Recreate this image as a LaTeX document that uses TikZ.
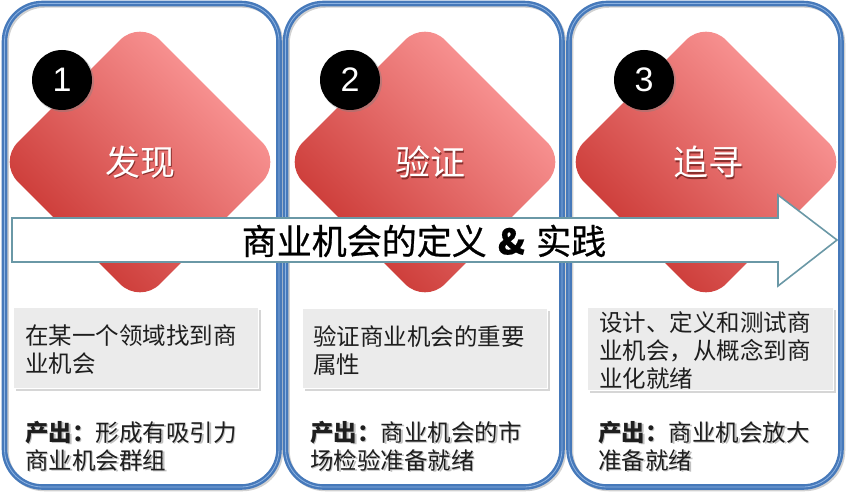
\documentclass[tikz,border=0pt]{standalone}
\usepackage{fontspec}
\setmainfont{Noto Sans CJK SC}
\newfontfamily\numfont{Liberation Sans}
\newfontfamily\titlefont[FakeBold=0.6]{Noto Sans CJK SC}
\usetikzlibrary{shapes.geometric}
\definecolor{panelblue}{HTML}{4679BA}
\definecolor{panellight}{HTML}{8DB3E2}
\definecolor{reddark}{HTML}{C62F2B}
\definecolor{redlight}{HTML}{FFA0A0}
\definecolor{arrowline}{HTML}{6A98A6}
\definecolor{boxgray}{HTML}{EBEBEB}
\definecolor{txtdark}{HTML}{1E1E1E}
\tikzset{
  panelbox/.style={rectangle, rounded corners=38pt, draw=panelblue, line width=2.4pt, double=panellight, double distance=0.8pt, inner sep=0pt},
  panelshadow/.style={rectangle, rounded corners=38pt, draw=black!40, line width=5pt, inner sep=0pt, opacity=0.45},
  redgem/.style={diamond, aspect=1, inner sep=0pt, minimum width=284pt, minimum height=284pt, rounded corners=28pt, top color=redlight, bottom color=reddark, shading angle=-45},
  gemtext/.style={text=white, font=\fontsize{35}{35}\selectfont, inner sep=0pt},
  gemshadow/.style={text=reddark!50!black, font=\fontsize{35}{35}\selectfont, inner sep=0pt, opacity=0.7},
  numdot/.style={circle, fill=black, minimum size=60pt, inner sep=0pt, text=white, font=\numfont\fontsize{34}{34}\selectfont},
  numshadow/.style={circle, fill=black!50, minimum size=61pt, inner sep=0pt, opacity=0.4},
  arrowbody/.style={draw=arrowline, line width=1.6pt, fill=white, line join=miter},
  greybox/.style={rectangle, fill=boxgray, draw=white, line width=0.8pt, inner sep=0pt},
  greyshadow/.style={rectangle, fill=black!35, opacity=0.45, inner sep=0pt},
  desc/.style={font=\fontsize{23.5}{28}\selectfont, align=left, anchor=west, inner sep=0pt, text=txtdark},
  descshadow/.style={desc, text=black!40, opacity=0.6},
}
\begin{document}
\begin{tikzpicture}[x=1pt, y=-1pt]
\useasboundingbox (0,0) rectangle (849,500);
\fill[white] (0,0) rectangle (849,500);

% panel shadows and panels
\node[panelshadow, minimum width=274.5pt, minimum height=483.5pt] (p1s) at (143.5,247) {};
\node[panelshadow, minimum width=276.5pt, minimum height=483.5pt] (p2s) at (425.5,247) {};
\node[panelshadow, minimum width=272pt, minimum height=483.5pt] (p3s) at (706.75,247) {};
\node[panelbox, minimum width=274.5pt, minimum height=483.5pt] (p1) at (141.75,245.25) {};
\node[panelbox, minimum width=276.5pt, minimum height=483.5pt] (p2) at (423.75,245.25) {};
\node[panelbox, minimum width=272pt, minimum height=483.5pt] (p3) at (705,245.25) {};

% red rounded diamonds
\node[redgem] (d1) at (140,162) {};
\node[redgem] (d2) at (425,162) {};
\node[redgem] (d3) at (706,162) {};

% numbered circles
\node[numshadow] (n1s) at (63.5,81.5) {};
\node[numshadow] (n2s) at (351.5,81.5) {};
\node[numshadow] (n3s) at (645.5,81.5) {};
\node[numdot] (n1) at (62,80) {1};
\node[numdot] (n2) at (350,80) {2};
\node[numdot] (n3) at (644,80) {3};

% titles in diamonds
\node[gemshadow] (g1s) at (141.5,163.5) {发现};
\node[gemshadow] (g2s) at (431.5,163.5) {验证};
\node[gemshadow] (g3s) at (709.5,163.5) {追寻};
\node[gemtext] (g1) at (140,162) {发现};
\node[gemtext] (g2) at (430,162) {验证};
\node[gemtext] (g3) at (708,162) {追寻};

% big arrow
\draw[arrowbody] (12,218) -- (778,218) -- (778,195) -- (837,240) -- (778,286) -- (778,262) -- (12,262) -- cycle;
\node[font=\titlefont\fontsize{35}{35}\selectfont, inner sep=0pt] (title) at (424,241) {商业机会的定义\hspace{0.32em}\textbf{\&}\hspace{0.32em}实践};

% grey boxes
\node[greyshadow, minimum width=245pt, minimum height=81pt] (b1s) at (138,350) {};
\node[greyshadow, minimum width=245pt, minimum height=80pt] (b2s) at (427,350.5) {};
\node[greyshadow, minimum width=246pt, minimum height=83pt] (b3s) at (712.5,351) {};
\node[greybox, minimum width=245pt, minimum height=81pt] (b1) at (135.5,347.5) {};
\node[greybox, minimum width=245pt, minimum height=80pt] (b2) at (424.5,348) {};
\node[greybox, minimum width=246pt, minimum height=83pt] (b3) at (710,348.5) {};

\node[desc] (t1) at (25,349.5) {在某一个领域找到商\\业机会};
\node[desc] (t2) at (313,350) {验证商业机会的重要\\属性};
\node[desc] (t3) at (599,350) {设计、定义和测试商\\业机会，从概念到商\\业化就绪};

% outputs
\node[descshadow] (o1s) at (26.5,447.5) {\textbf{产出：}形成有吸引力\\商业机会群组};
\node[descshadow] (o2s) at (311.5,447.5) {\textbf{产出：}商业机会的市\\场检验准备就绪};
\node[descshadow] (o3s) at (599.5,447.5) {\textbf{产出：}商业机会放大\\准备就绪};
\node[desc] (o1) at (25,446) {\textbf{产出：}形成有吸引力\\商业机会群组};
\node[desc] (o2) at (310,446) {\textbf{产出：}商业机会的市\\场检验准备就绪};
\node[desc] (o3) at (598,446) {\textbf{产出：}商业机会放大\\准备就绪};
\end{tikzpicture}
\end{document}
